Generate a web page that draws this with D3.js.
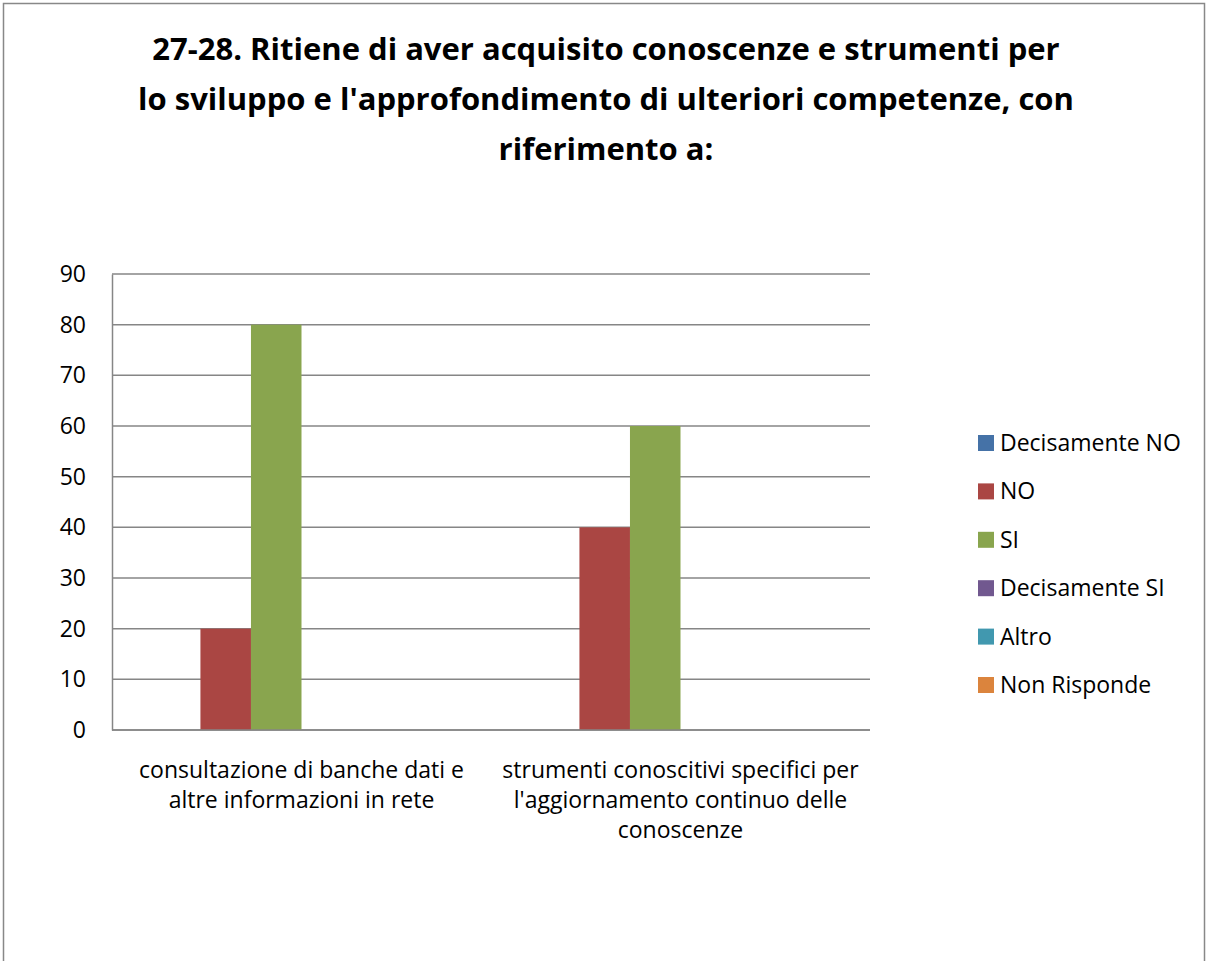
<!DOCTYPE html>
<html>
<head>
<meta charset="utf-8">
<script src="https://cdn.jsdelivr.net/npm/d3@7.9.0/dist/d3.min.js"></script>
<style>
  html, body { margin: 0; padding: 0; background: #fff; }
  svg { display: block; }
  text { fill: #000; }
</style>
</head>
<body>
<svg id="chart" width="1208" height="961"></svg>
<script>
const titleLines = [
  '27-28. Ritiene di aver acquisito conoscenze e strumenti per',
  "lo sviluppo e l'approfondimento di ulteriori competenze, con",
  'riferimento a:',
];

const categories = [
  ['consultazione di banche dati e', 'altre informazioni in rete'],
  ['strumenti conoscitivi specifici per', "l'aggiornamento continuo delle", 'conoscenze'],
];

const seriesNames = ['Decisamente NO', 'NO', 'SI', 'Decisamente SI', 'Altro', 'Non Risponde'];
const seriesColors = ['#4572A7', '#AA4643', '#89A54E', '#71588F', '#4198AF', '#DB843D'];

const decisamenteNo = [0, 0];
const no = [20, 40];
const si = [80, 60];
const decisamenteSi = [0, 0];
const altro = [0, 0];
const nonRisponde = [0, 0];

const yTicks = [0, 10, 20, 30, 40, 50, 60, 70, 80, 90];

const seriesValues = [decisamenteNo, no, si, decisamenteSi, altro, nonRisponde];

const svg = d3.select('#chart');
const font = "'Open Sans', sans-serif";

// outer chart border
svg.append('rect')
  .attr('x', 3.5).attr('y', 3.5)
  .attr('width', 1201).attr('height', 980)
  .attr('fill', '#fff')
  .attr('stroke', '#888').attr('stroke-width', 1.5);

// title
const title = svg.append('g').attr('font-family', font)
  .attr('font-weight', 'bold').attr('font-size', 31).attr('text-anchor', 'middle');
titleLines.forEach((line, i) => {
  title.append('text').attr('x', 606).attr('y', 60 + i * 50).text(line);
});

const plot = { left: 112, right: 870, top: 274, bottom: 730 };

const y = d3.scaleLinear().domain([0, 90]).range([plot.bottom, plot.top]);
const x0 = d3.scaleBand().domain(d3.range(categories.length)).range([plot.left, plot.right]);
// Excel style gap width 150%: each group = 6 bars + 1.5 bar gap
const barW = x0.bandwidth() / (seriesNames.length + 1.5);
const x1 = d3.scaleBand().domain(seriesNames)
  .range([barW * 0.75, x0.bandwidth() - barW * 0.75]);

// gridlines
svg.append('g')
  .selectAll('line')
  .data(yTicks)
  .join('line')
  .attr('x1', plot.left).attr('x2', plot.right)
  .attr('y1', (d) => y(d)).attr('y2', (d) => y(d))
  .attr('stroke', '#868686').attr('stroke-width', 1.5);

// bars
const groups = svg.append('g')
  .selectAll('g')
  .data(categories.map((c, i) => i))
  .join('g')
  .attr('transform', (i) => `translate(${x0(i)},0)`);

groups.selectAll('rect')
  .data((i) => seriesNames.map((s, k) => ({ s, k, v: seriesValues[k][i] })))
  .join('rect')
  .attr('x', (d) => x1(d.s))
  .attr('width', x1.bandwidth())
  .attr('y', (d) => y(d.v))
  .attr('height', (d) => y(0) - y(d.v))
  .attr('fill', (d) => seriesColors[d.k]);

// y axis
const yAxis = svg.append('g')
  .attr('transform', `translate(${plot.left},0)`)
  .call(d3.axisLeft(y).tickValues(yTicks).tickSize(0).tickPadding(26));
yAxis.select('.domain').attr('stroke', '#868686').attr('stroke-width', 1.5);
yAxis.selectAll('text').attr('font-family', font).attr('font-size', 23).attr('fill', '#000');

// bottom axis line
svg.append('line')
  .attr('x1', plot.left).attr('x2', plot.right)
  .attr('y1', y(0)).attr('y2', y(0))
  .attr('stroke', '#868686').attr('stroke-width', 1.5);

// category labels
const catLabels = svg.append('g').attr('font-family', font).attr('font-size', 23).attr('text-anchor', 'middle');
categories.forEach((lines, i) => {
  lines.forEach((line, j) => {
    catLabels.append('text')
      .attr('x', x0(i) + x0.bandwidth() / 2)
      .attr('y', 778 + j * 30)
      .text(line);
  });
});

// legend
const legend = svg.append('g').attr('font-family', font).attr('font-size', 23);
const legendY = d3.scalePoint().domain(seriesNames).range([443, 685]);
seriesNames.forEach((s, k) => {
  const cy = legendY(s);
  legend.append('rect').attr('x', 978).attr('y', cy - 8).attr('width', 16).attr('height', 16)
    .attr('fill', seriesColors[k]);
  legend.append('text').attr('x', 1000).attr('y', cy).attr('dy', '0.35em').text(s);
});
</script>
</body>
</html>
